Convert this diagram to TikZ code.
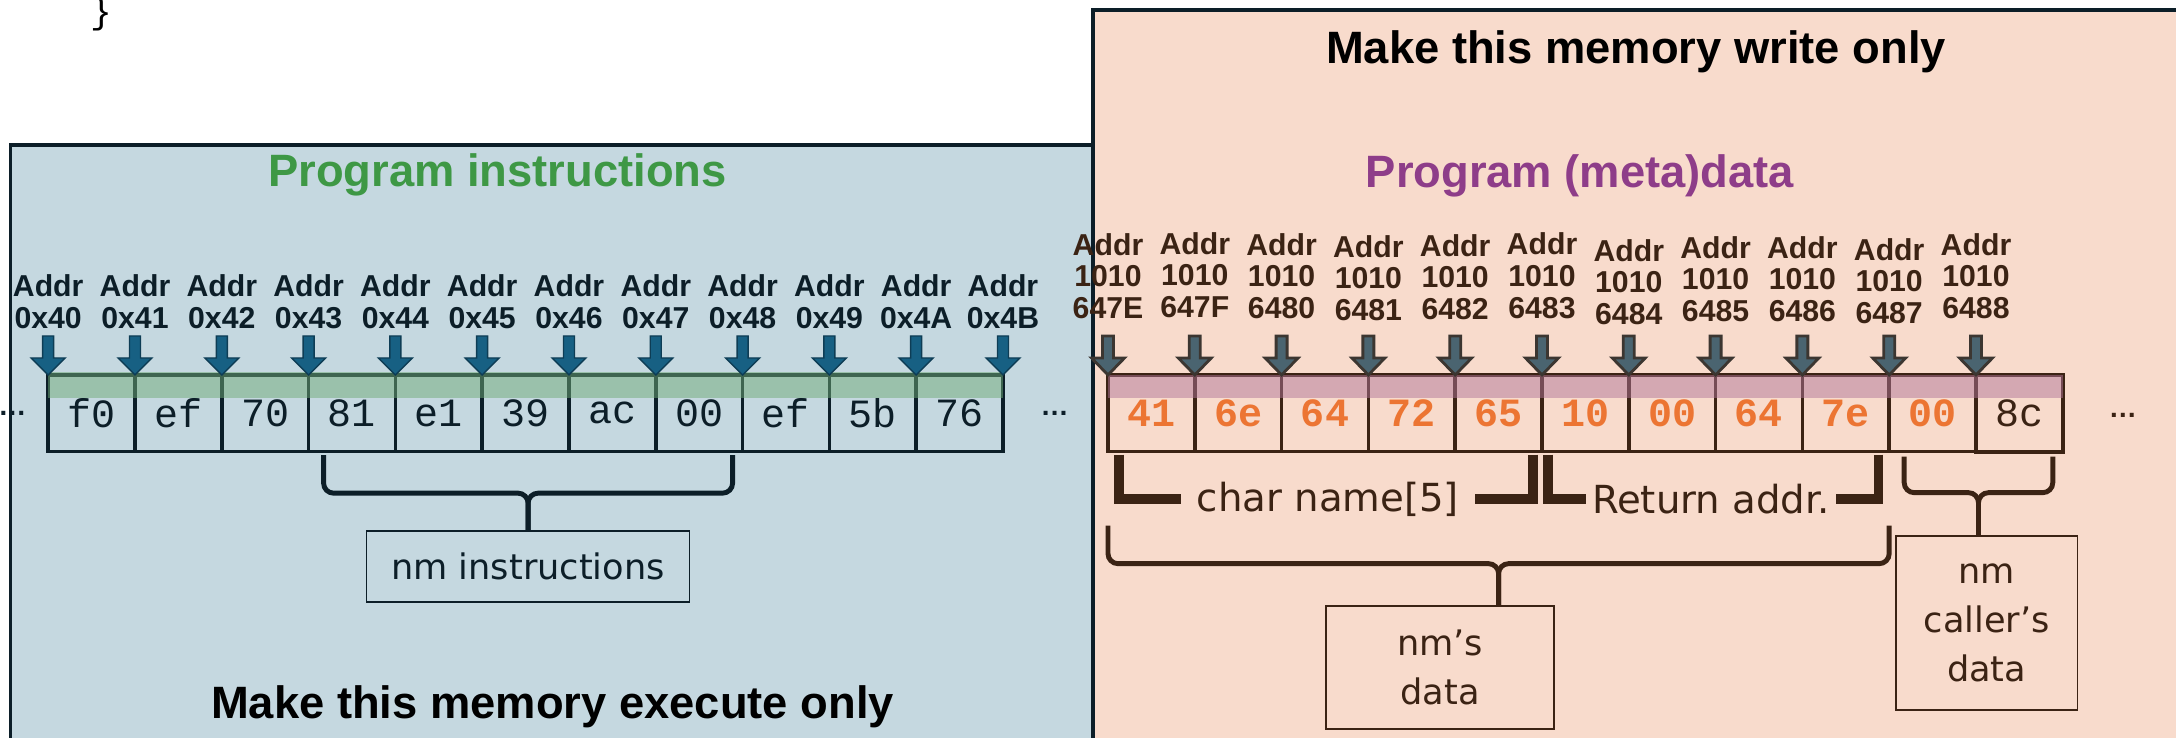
\documentclass[tikz,border=0pt]{standalone}
\usepackage{fontspec}
\setmainfont{DejaVu Sans}
\setmonofont{Liberation Mono}
\newfontfamily\arialfont{Liberation Sans}
\usepackage{tikz}
\usetikzlibrary{positioning,calc}
\definecolor{execfill}{HTML}{C5D8E0}
\definecolor{writefill}{HTML}{F8DBCC}
\definecolor{navyline}{HTML}{0C1E28}
\definecolor{brownline}{HTML}{3B2314}
\definecolor{arrblue}{HTML}{176083}
\definecolor{arrblueedge}{HTML}{0E3D55}
\definecolor{arrgray}{HTML}{4A6470}
\definecolor{arrgrayedge}{HTML}{3C3631}
\definecolor{bandgreen}{HTML}{71AC78}
\definecolor{bandpurple}{HTML}{B27699}
\definecolor{valorange}{HTML}{EC7533}
\definecolor{titlegreen}{HTML}{3E9845}
\definecolor{titlepurple}{HTML}{8E3D89}

\begin{document}
\begin{tikzpicture}[x=0.1mm, y=-0.1mm,
  lcell/.style={draw=navyline, line width=1pt, minimum width=8.68mm, minimum height=7.67mm, inner sep=0pt, outer sep=0pt, font=\ttfamily\fontsize{11.4}{13}\selectfont, text=navyline},
  rcell/.style={lcell, draw=brownline, text=valorange, font=\ttfamily\bfseries\fontsize{11.4}{13}\selectfont},
  addr/.style={anchor=south, align=center, inner sep=0pt, font=\arialfont\bfseries\fontsize{8.6}{9.1}\selectfont},
  larrow/.style={fill=arrblue, draw=arrblueedge, line width=0.4pt},
  rarrow/.style={fill=arrgray, draw=arrgrayedge, line width=0.8pt},
  ttl/.style={anchor=base, inner sep=0pt, font=\arialfont\bfseries\fontsize{12.9}{15}\selectfont},
  lbl/.style={draw, line width=0.5pt, align=center, inner sep=0pt, font=\fontsize{10}{13.9}\selectfont},
  brc/.style={line width=1.4pt, rounded corners=1mm},
  brk/.style={line width=2.6pt, draw=brownline},
  brktext/.style={inner ysep=0pt, inner xsep=1.5mm, text=brownline, font=\fontsize{11}{13}\selectfont},
  more/.style={inner sep=0pt, font=\arialfont\bfseries\fontsize{8}{9}\selectfont}
]
  \useasboundingbox (0,0) rectangle (2176,737);
  % the two memory regions
  \filldraw[fill=execfill, draw=navyline, line width=1pt] (10.5,145) rectangle (1094,770);
  \filldraw[fill=writefill, draw=navyline, line width=1pt] (1093,10) rectangle (2200,770);
  \node[anchor=base, inner sep=0pt, font=\ttfamily\fontsize{10.3}{12}\selectfont] (codebrace) at (101,23) {\}};

  \node[ttl] (wronly) at (1636,63) {Make this memory write only};
  \node[ttl, text=titlegreen] (instr) at (497.5,186) {Program instructions};
  \node[ttl, text=titlepurple] (meta) at (1580,187) {Program (meta)data};
  \node[ttl] (exonly) at (552.5,718) {Make this memory execute only};

  % instruction bytes
  \node[lcell] (l1) at (91.6,413.3) {f0};
  \foreach \v [count=\i from 2, remember=\i as \j (initially 1)] in {ef,70,81,e1,39,ac,00,ef,5b,76}
    \node[lcell, right=0pt of l\j] (l\i) {\v};
  \fill[bandgreen, opacity=0.5] ($(l1.north west)+(0,-3)$) rectangle ($(l11.north east)+(0,23)$);
  \foreach \i in {1,...,11}
    \coordinate (lb\i) at (l\i.north west);
  \coordinate (lb12) at (l11.north east);
  \foreach \a [count=\i] in {40,41,42,43,44,45,46,47,48,49,4A,4B} {
    \draw[larrow] (lb\i) -- ++(-17,-17) -- ++(11.5,0) -- ++(0,-22) -- ++(11,0) -- ++(0,22) -- ++(11.5,0) -- cycle;
    \node[addr, text=navyline] (la\i) at ($(lb\i)+(0,-45)$) {Addr\\0x\a};
  }
  \node[more, text=navyline] (ldots) at (12.5,413) {…};
  \node[more, text=navyline] (mdots) at (1054.6,413) {…};

  % stack bytes
  \node[rcell] (r1) at (1151.4,413.3) {41};
  \foreach \v [count=\i from 2, remember=\i as \j (initially 1)] in {6e,64,72,65,10,00,64,7e,00}
    \node[rcell, right=0pt of r\j] (r\i) {\v};
  \node[rcell, text=brownline, font=\ttfamily\fontsize{11.4}{13}\selectfont, line width=1.2pt, right=0pt of r10] (r11) {8c};
  \fill[bandpurple, opacity=0.5] (r1.north west) rectangle ($(r11.north east)+(0,23)$);
  \foreach \a/\d [count=\i] in {647E/0,647F/-1,6480/0,6481/2,6482/1,6483/0,6484/6,6485/3,6486/3,6487/5,6488/0} {
    \draw[rarrow] (r\i.north west) -- ++(-16.5,-17) -- ++(11,0) -- ++(0,-22) -- ++(11,0) -- ++(0,22) -- ++(11,0) -- cycle;
    \node[addr, text=brownline] (ra\i) at ($(r\i.north west)+(0,-55+\d)$) {Addr\\1010\\\a};
  }
  \node[more, text=brownline] (rdots) at (2123,415) {…};

  % nm instructions
  \node[lbl, draw=navyline, text=navyline, minimum width=32.3mm, minimum height=7.13mm] (nmins) at (528,566.3) {nm instructions};
  \coordinate (ibl) at ($(l4.south west)+(15,3.5)$);
  \coordinate (ibr) at ($(l8.south east)+(-10,3.5)$);
  \coordinate (ibm) at ($(ibl)!0.5!(ibr)+(0,38)$);
  \draw[brc, navyline] (ibl) |- (ibm) -- (ibm |- nmins.north);
  \draw[brc, navyline] (ibr) |- (ibm) -- (ibm |- nmins.north);

  % name buffer and return address
  \node[brktext] (chname) at (1328,499) {char name[5]};
  \node[brktext, inner xsep=0.5mm] (retaddr) at (1711,499) {Return addr.};
  \draw[brk] ($(r1.south west)+(11,3)$) |- (chname.west);
  \draw[brk] ($(r5.south east)+(-9,3)$) |- (chname.east);
  \draw[brk] ($(r6.south west)+(6,3)$) |- (retaddr.west);
  \draw[brk] ($(r9.south east)+(-11,3)$) |- (retaddr.east);

  % nm's data
  \node[lbl, draw=brownline, text=brownline, minimum width=22.8mm, minimum height=12.3mm] (nmdata) at (1440,667.2) {nm’s\\data};
  \coordinate (dbl) at ($(r1.south west)+(0,74)$);
  \coordinate (dbr) at ($(r9.south east)+(0,74)$);
  \coordinate (dbm) at ($(dbl)!0.5!(dbr)+(0,38)$);
  \draw[brc, brownline] (dbl) |- (dbm) -- (dbm |- nmdata.north);
  \draw[brc, brownline] (dbr) |- (dbm) -- (dbm |- nmdata.north);

  % caller's data
  \node[lbl, draw=brownline, text=brownline, minimum width=18.15mm, minimum height=17.43mm] (nmcall) at (1986.7,622.8) {nm\\caller’s\\data};
  \coordinate (cbl) at ($(r10.south west)+(15,5)$);
  \coordinate (cbr) at ($(r11.south east)+(-10,5)$);
  \coordinate (cbm) at ($(cbl)!0.5!(cbr)+(0,36)$);
  \draw[brc, brownline] (cbl) |- (cbm) -- (cbm |- nmcall.north);
  \draw[brc, brownline] (cbr) |- (cbm) -- (cbm |- nmcall.north);
\end{tikzpicture}
\end{document}
